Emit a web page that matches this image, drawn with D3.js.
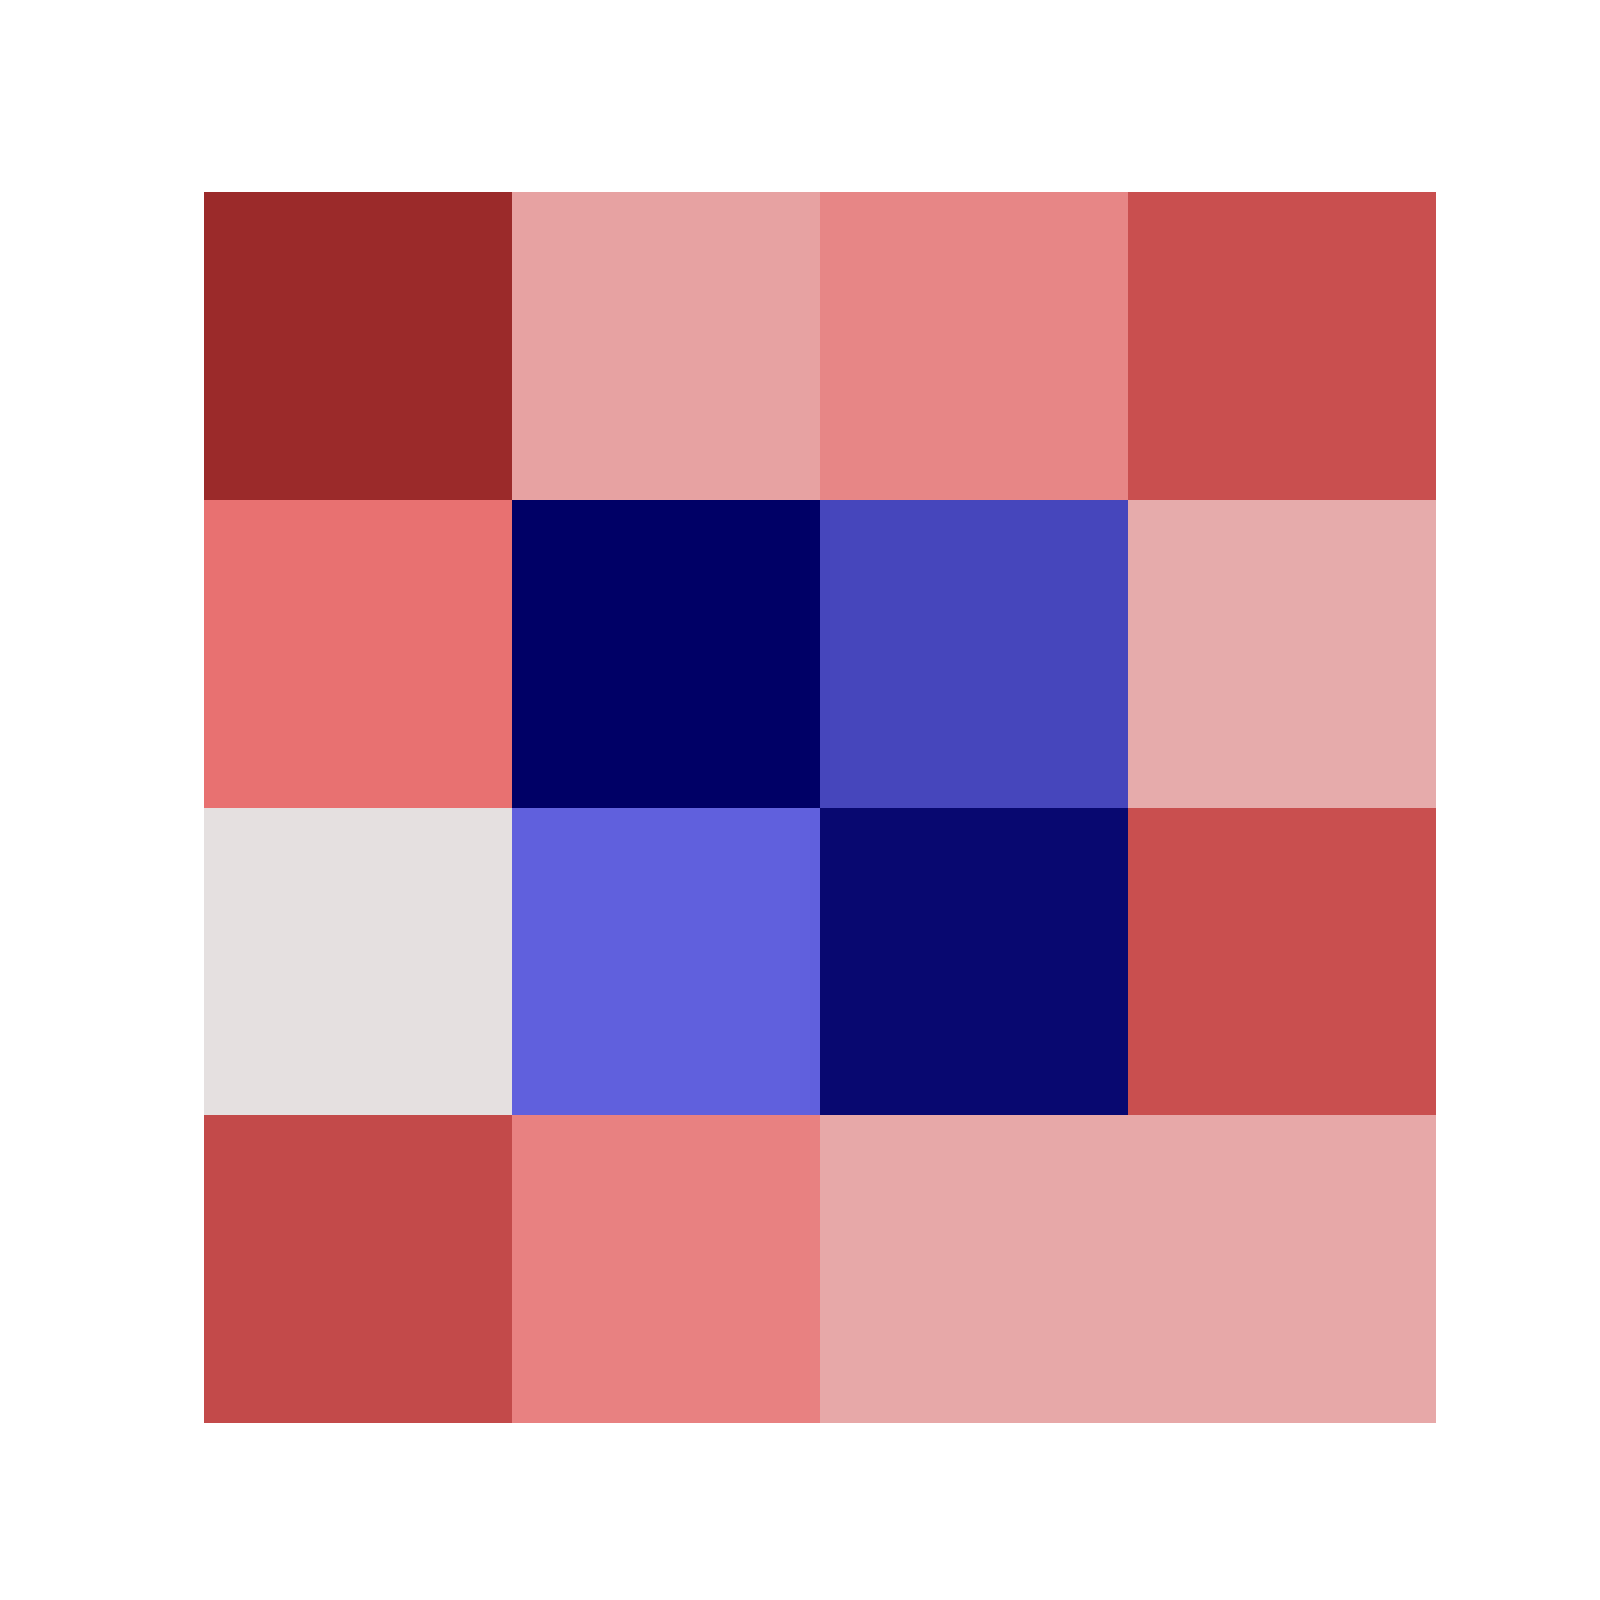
<!DOCTYPE html>
<html>
<head>
<meta charset="utf-8">
<script src="https://cdn.jsdelivr.net/npm/d3@7"></script>
<style>
  html, body { margin: 0; padding: 0; background: #ffffff; }
  svg { display: block; }
</style>
</head>
<body>
<div id="chart"></div>
<script>
// 4x4 heat map, rows top to bottom
const rowLabels = ['r0', 'r1', 'r2', 'r3'];
const colLabels = ['c0', 'c1', 'c2', 'c3'];
const row0 = [1.0, 0.22, 0.32, 0.70];
const row1 = [0.395, -1.0, -0.565, 0.19];
const row2 = [0.0, -0.40, -0.95, 0.70];
const row3 = [0.74, 0.34, 0.20, 0.20];
const rows = [row0, row1, row2, row3];

// diverging palette stops
const colorStops = [-1, -0.4, 0, 0.4, 0.7, 1];
const colorRange = ['#000066', '#6060dd', '#e5e0e0', '#e87070', '#c94f4f', '#9b2a2a'];

const W = 1600, H = 1600;
const marginLeft = 204, marginTop = 192, gridW = 1232, gridH = 1231;

const svg = d3.select('#chart').append('svg')
    .attr('width', W)
    .attr('height', H);

const x = d3.scaleBand().domain(colLabels).range([marginLeft, marginLeft + gridW]).padding(0);
const y = d3.scaleBand().domain(rowLabels).range([marginTop, marginTop + gridH]).padding(0);
const color = d3.scaleLinear().domain(colorStops).range(colorRange).clamp(true);

const cells = [];
rows.forEach((vals, i) => {
    vals.forEach((v, j) => cells.push({ r: rowLabels[i], c: colLabels[j], v: v }));
});

svg.append('g')
    .selectAll('rect')
    .data(cells)
    .join('rect')
    .attr('x', d => x(d.c))
    .attr('y', d => y(d.r))
    .attr('width', x.bandwidth())
    .attr('height', y.bandwidth())
    .attr('fill', d => color(d.v))
    .attr('shape-rendering', 'crispEdges');
</script>
</body>
</html>
